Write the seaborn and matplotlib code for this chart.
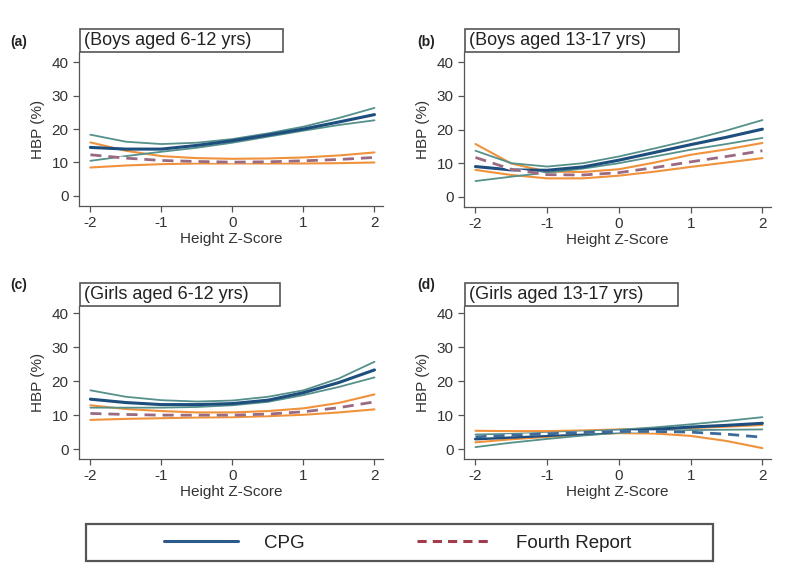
import numpy as np
import pandas as pd
import matplotlib
matplotlib.use('Agg')
import matplotlib.pyplot as plt
from matplotlib.lines import Line2D
from matplotlib.patches import Rectangle
import seaborn as sns

# height z-score grid the values were read at
z = [-2, -1.5, -1, -0.5, 0, 0.5, 1, 1.5, 2]

panels = ['(a)', '(b)', '(c)', '(d)']
titles = ['(Boys aged 6-12 yrs)', '(Boys aged 13-17 yrs)',
          '(Girls aged 6-12 yrs)', '(Girls aged 13-17 yrs)']

# CPG: estimate, upper and lower CI
cpg = [[14.5, 14.0, 14.0, 15.1, 16.5, 18.2, 20.0, 22.1, 24.3],
       [9.0, 8.0, 7.9, 8.9, 10.9, 13.2, 15.5, 17.7, 20.1],
       [14.7, 13.7, 13.1, 13.1, 13.4, 14.4, 16.6, 19.6, 23.3],
       [3.0, 3.5, 4.0, 4.6, 5.2, 5.8, 6.5, 7.0, 7.6]]
cpg_hi = [[18.3, 16.2, 15.5, 15.9, 17.0, 18.7, 20.7, 23.3, 26.3],
          [13.7, 10.0, 9.0, 10.0, 12.0, 14.4, 16.9, 19.7, 22.8],
          [17.3, 15.4, 14.4, 14.0, 14.3, 15.4, 17.3, 20.8, 25.7],
          [4.3, 4.5, 4.8, 5.2, 5.7, 6.4, 7.3, 8.3, 9.4]]
cpg_lo = [[10.5, 11.9, 13.2, 14.4, 15.9, 17.7, 19.5, 21.2, 22.6],
          [4.7, 6.0, 7.2, 8.4, 10.0, 12.0, 14.0, 15.7, 17.5],
          [12.2, 12.2, 12.2, 12.4, 12.9, 13.9, 15.9, 18.3, 21.1],
          [0.6, 1.9, 3.0, 4.0, 4.8, 5.3, 5.6, 5.7, 5.8]]

# Fourth Report: estimate, upper and lower CI
fourth = [[12.3, 11.3, 10.6, 10.3, 10.1, 10.2, 10.5, 10.9, 11.5],
          [11.7, 8.2, 6.6, 6.5, 7.2, 8.7, 10.4, 12.0, 13.7],
          [10.5, 10.2, 10.0, 10.0, 10.0, 10.3, 11.0, 12.2, 13.9],
          [3.6, 4.1, 4.5, 4.9, 5.2, 5.2, 5.0, 4.4, 3.5]]
fourth_hi = [[16.0, 13.5, 11.9, 11.3, 11.1, 11.2, 11.5, 12.1, 13.0],
             [15.7, 9.9, 7.5, 7.4, 8.2, 10.2, 12.5, 14.1, 16.0],
             [12.9, 11.8, 11.2, 10.8, 10.8, 11.2, 12.0, 13.6, 16.1],
             [5.4, 5.3, 5.3, 5.5, 5.8, 6.0, 6.2, 6.6, 7.1]]
fourth_lo = [[8.5, 9.1, 9.5, 9.7, 9.7, 9.7, 9.7, 9.8, 10.0],
             [8.0, 6.5, 5.5, 5.5, 6.3, 7.5, 8.9, 10.2, 11.5],
             [8.6, 8.9, 9.1, 9.3, 9.4, 9.7, 10.1, 10.8, 11.7],
             [2.0, 2.9, 3.6, 4.3, 4.7, 4.6, 3.9, 2.4, 0.3]]

C_MAIN = '#1d4e7e'
C_CI = '#55908a'
C_ORANGE = '#f0923c'
C_DASH = ['#9a6a82', '#9a6a82', '#9a6a82', '#3e6a98']
DASH = (0, (4, 2.5))

sns.set_style('ticks')
plt.rcParams['font.family'] = ['Liberation Sans', 'DejaVu Sans']
plt.rcParams['axes.unicode_minus'] = False

fig = plt.figure(figsize=(8, 5.75), dpi=100)
W, H = 800, 575

# axes boxes in pixels: left, top, right, bottom
boxes = [(79, 52, 383, 206), (464, 52, 771, 207),
         (79, 306, 383, 459), (464, 306, 771, 459)]
ylims = [(-3.0, 43.0), (-3.0, 43.0), (-2.9, 42.1), (-2.9, 42.1)]
title_w = [203, 214, 200, 213]

for i in range(4):
    l, t, r, b = boxes[i]
    ax = fig.add_axes([l / W, 1 - b / H, (r - l) / W, (b - t) / H])

    sns.lineplot(x=z, y=fourth_hi[i], ax=ax, color=C_ORANGE, linewidth=1.5)
    sns.lineplot(x=z, y=fourth_lo[i], ax=ax, color=C_ORANGE, linewidth=1.5)
    sns.lineplot(x=z, y=cpg_hi[i], ax=ax, color=C_CI, linewidth=1.3)
    sns.lineplot(x=z, y=cpg_lo[i], ax=ax, color=C_CI, linewidth=1.3)
    sns.lineplot(x=z, y=cpg[i], ax=ax, color=C_MAIN, linewidth=2.2)
    sns.lineplot(x=z, y=fourth[i], ax=ax, color='white', linewidth=1.6)
    sns.lineplot(x=z, y=fourth[i], ax=ax, color=C_DASH[i], linewidth=2.0,
                 linestyle=DASH)

    ax.set_xlim(-2.16, 2.12)
    ax.set_ylim(*ylims[i])
    ax.set_xticks([-2, -1, 0, 1, 2])
    ax.set_yticks([0, 10, 20, 30, 40])
    ax.set_xlabel('Height Z-Score', fontsize=11, color='#333333', labelpad=1)
    ax.set_ylabel('HBP (%)', fontsize=11, color='#333333', labelpad=5)
    ax.tick_params(labelsize=11, labelcolor='#333333', color='#555555',
                   length=4.5, width=0.9, pad=3)
    for s in ['top', 'right']:
        ax.spines[s].set_visible(False)
    for s in ['left', 'bottom']:
        ax.spines[s].set_color('#555555')
        ax.spines[s].set_linewidth(0.9)

    # boxed subtitle sitting on top of the plot area
    bw = title_w[i] / (r - l)
    bh = 23 / (b - t)
    ax.add_patch(Rectangle((0.003, 1.0), bw, bh, transform=ax.transAxes,
                           facecolor='white', edgecolor='#555555',
                           linewidth=1.2, clip_on=False))
    ax.text(0.015, 1.0 + bh / 2, titles[i], transform=ax.transAxes,
            fontsize=13, va='center', ha='left', color='#222222')

    fig.text((10 if i % 2 == 0 else 417) / W, 1 - (42 if i < 2 else 285) / H,
             panels[i], fontsize=10, fontweight='bold', va='center',
             color='#222222')

# legend box
fig.add_artist(Rectangle((86 / W, 1 - 561 / H), 627 / W, 37 / H,
                         transform=fig.transFigure, facecolor='white',
                         edgecolor='#555555', linewidth=1.6))
handles = [Line2D([], [], color='#2b5a8a', linewidth=2.2),
           Line2D([], [], color='#a03c4c', linewidth=2.2, linestyle=(0, (3, 2)))]
fig.legend(handles, ['CPG', 'Fourth Report'], loc='center',
           bbox_to_anchor=(398 / W, 1 - 543 / H), ncol=2, frameon=False,
           fontsize=13.5, handlelength=3.9, handletextpad=1.4,
           columnspacing=6.0, labelcolor='#222222')

fig.savefig('out.png', dpi=100)
